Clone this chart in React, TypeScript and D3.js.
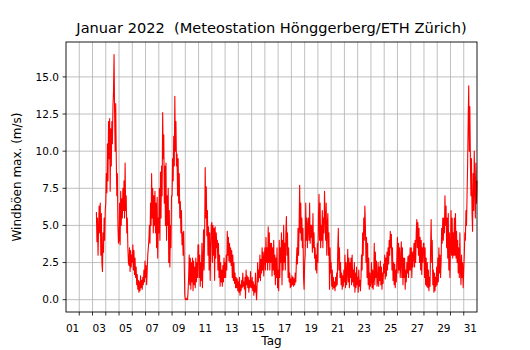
import * as d3 from 'd3';

// hourly max gusts (m/s), one row per day; first row starts Jan 3 07:00
const firstDay = 3;
const firstHour = 7;
const gustRows: number[][] = [
  [5.9, 3.9, 5.5, 3.0, 4.8, 6.3, 4.5, 6.5, 3.0, 5.8, 2.5, 1.9, 4.5, 3.2, 5.5, 4.0, 6.0],
  [6.5, 8.5, 7.2, 10.5, 8.0, 12.0, 9.5, 12.2, 7.3, 11.5, 9.0, 12.0, 10.5, 13.0, 14.0, 16.5, 12.5, 10.0, 13.2, 9.5, 7.0, 8.5, 5.0, 3.8],
  [4.0, 6.5, 3.7, 7.3, 5.0, 6.8, 5.5, 7.5, 6.0, 8.0, 5.5, 9.2, 6.0, 7.0, 4.5, 5.5, 3.5, 2.5, 2.3, 3.5, 1.9, 3.3, 2.2, 3.0],
  [2.5, 3.7, 2.0, 3.3, 1.7, 2.8, 1.5, 2.2, 1.0, 1.7, 0.7, 1.3, 0.5, 1.2, 0.6, 1.6, 0.8, 1.3, 0.7, 1.5, 1.0, 2.0, 1.2, 2.6],
  [1.5, 2.3, 1.0, 2.0, 3.0, 3.5, 4.0, 5.0, 3.8, 6.5, 5.0, 8.5, 5.5, 7.5, 4.5, 7.0, 5.0, 7.3, 4.5, 6.5, 3.5, 6.9, 2.8, 5.5],
  [4.5, 7.5, 4.0, 8.6, 5.5, 9.0, 7.0, 12.6, 9.5, 11.1, 6.5, 9.0, 5.0, 9.2, 4.0, 7.0, 5.0, 7.5, 2.5, 6.0, 2.2, 5.0, 3.5, 7.0],
  [7.0, 9.5, 8.0, 11.0, 9.0, 13.7, 10.0, 12.0, 9.0, 9.8, 7.0, 9.5, 6.5, 8.5, 5.5, 6.6, 4.5, 6.0, 3.7, 4.5, 3.0, 4.6, 2.6, 0.3],
  [0.0, 0.05, 0.0, 0.1, 0.0, 0.6, 1.5, 3.0, 1.0, 2.8, 0.7, 2.5, 1.2, 2.8, 0.6, 2.6, 1.0, 2.2, 0.8, 2.8, 1.2, 2.5, 1.5, 3.7],
  [3.7, 1.5, 3.0, 0.9, 2.5, 1.3, 3.8, 0.8, 2.5, 4.7, 2.0, 4.5, 8.9, 5.5, 7.6, 4.3, 6.0, 3.0, 4.9, 2.0, 4.5, 1.3, 3.5, 5.0],
  [5.2, 2.5, 5.0, 3.0, 4.8, 1.3, 4.9, 2.8, 4.5, 3.5, 4.0, 2.0, 3.8, 1.5, 3.0, 0.9, 2.5, 1.2, 2.0, 0.9, 2.3, 1.2, 2.8, 1.5],
  [2.5, 1.5, 3.0, 2.0, 4.6, 3.0, 4.2, 2.6, 3.8, 2.5, 3.5, 2.3, 3.3, 1.5, 3.0, 1.3, 2.5, 1.1, 1.8, 0.8, 1.5, 0.8, 1.4, 0.6],
  [1.2, 0.5, 1.5, 0.3, 1.0, 0.6, 1.3, 0.8, 1.8, 0.9, 1.2, 0.7, 1.5, 0.1, 2.0, 1.0, 1.6, 0.8, 1.5, 0.5, 1.3, 0.8, 1.9, 0.9],
  [0.8, 1.5, 0.6, 1.2, 0.3, 1.0, 0.5, 1.8, 0.6, 0.0, 1.0, 2.5, 1.2, 2.0, 1.5, 3.0, 1.3, 2.7, 1.8, 3.5, 2.0, 3.2, 1.6, 2.8],
  [3.5, 2.0, 4.2, 2.5, 3.5, 2.0, 4.9, 2.5, 4.5, 2.0, 3.8, 2.5, 3.8, 1.6, 3.5, 2.0, 4.0, 1.7, 3.0, 1.0, 2.8, 1.5, 3.5, 0.8],
  [2.0, 0.6, 4.0, 1.5, 3.5, 2.5, 4.5, 1.0, 4.0, 2.0, 5.0, 2.5, 3.8, 2.0, 4.5, 5.6, 3.0, 4.5, 1.5, 3.5, 1.2, 1.8, 0.8, 1.4],
  [0.9, 1.6, 1.0, 1.5, 0.9, 1.4, 1.0, 1.8, 1.2, 2.5, 3.5, 2.4, 4.8, 3.0, 5.0, 7.7, 4.5, 6.5, 4.0, 5.5, 3.5, 4.8, 1.5, 0.7],
  [2.5, 3.0, 6.5, 4.0, 5.5, 3.5, 5.0, 5.5, 4.0, 6.5, 3.8, 5.0, 4.2, 5.0, 3.2, 5.8, 3.5, 4.5, 2.8, 3.5, 2.0, 3.0, 1.8, 3.8],
  [2.5, 5.5, 7.1, 4.0, 6.5, 3.5, 5.0, 4.0, 6.0, 3.5, 5.5, 4.5, 7.3, 5.5, 4.0, 6.5, 3.0, 5.0, 5.8, 3.0, 4.5, 0.7, 3.5, 1.8],
  [2.5, 0.9, 2.0, 0.7, 1.5, 0.8, 1.2, 0.6, 1.5, 0.9, 1.8, 1.0, 3.5, 4.8, 2.0, 3.5, 1.5, 2.5, 1.0, 1.8, 0.7, 1.6, 0.9, 2.0],
  [1.2, 3.0, 0.8, 2.5, 1.0, 1.8, 3.4, 1.2, 2.8, 0.8, 2.5, 1.5, 2.8, 1.0, 3.0, 1.2, 2.0, 0.9, 2.5, 0.5, 1.8, 0.8, 2.2, 1.0],
  [1.5, 0.5, 2.0, 0.9, 1.3, 0.6, 1.5, 3.0, 2.0, 4.5, 3.0, 5.5, 4.0, 6.3, 5.0, 2.5, 4.2, 1.5, 3.8, 1.0, 2.8, 0.7, 1.8, 0.9],
  [1.2, 2.5, 0.8, 2.0, 0.7, 1.5, 3.8, 1.0, 3.2, 1.5, 2.6, 0.9, 1.2, 2.5, 0.9, 2.2, 1.3, 2.6, 1.0, 2.2, 0.7, 1.8, 1.1, 2.4],
  [1.8, 3.0, 1.4, 2.8, 1.6, 3.2, 2.0, 3.5, 2.4, 4.0, 3.0, 4.6, 3.5, 4.4, 2.0, 3.5, 1.3, 2.5, 1.0, 2.4, 0.8, 2.0, 1.2, 3.0],
  [4.2, 1.8, 3.8, 2.0, 3.5, 1.5, 2.5, 3.9, 1.5, 3.5, 1.0, 2.8, 1.5, 2.8, 0.7, 2.0, 1.2, 2.5, 1.8, 2.9, 1.5, 3.0, 2.0, 3.5],
  [2.0, 3.5, 1.5, 3.2, 2.2, 3.0, 3.8, 2.2, 4.0, 2.5, 4.5, 5.4, 3.5, 5.2, 3.0, 4.8, 2.5, 4.2, 2.0, 4.0, 1.7, 3.5, 2.5, 3.8],
  [3.8, 1.5, 3.5, 1.0, 2.8, 0.9, 2.5, 0.8, 2.0, 0.6, 1.5, 0.9, 3.5, 5.4, 2.5, 4.0, 1.0, 2.0, 0.5, 1.8, 0.6, 1.5, 0.9, 2.2],
  [1.0, 2.8, 1.2, 3.5, 1.8, 3.0, 1.5, 2.5, 4.8, 3.8, 5.5, 4.0, 5.5, 4.5, 7.0, 5.0, 6.3, 3.5, 5.5, 2.8, 5.8, 2.0, 4.5, 1.5],
  [3.5, 6.0, 3.0, 5.5, 2.8, 4.5, 3.0, 5.5, 3.0, 5.8, 2.8, 4.6, 2.5, 4.0, 1.8, 3.5, 1.5, 4.5, 2.0, 1.0, 3.0, 1.5, 2.5, 0.8],
  [2.0, 3.0, 4.5, 4.0, 6.0, 5.0, 7.0, 9.0, 12.0, 14.4, 10.0, 13.0, 9.5, 7.0, 9.5, 5.8, 4.6, 8.5, 6.0, 10.0, 7.5, 5.5, 9.2, 6.5, 8.0],
];

const yTicks = [0, 2.5, 5, 7.5, 10, 12.5, 15];
const dayLabels = ['01', '03', '05', '07', '09', '11', '13', '15', '17', '19', '21', '23', '25', '27', '29', '31'];
const dayBounds = d3.range(2, 32);

const title = 'Januar 2022  (Meteostation Hönggerberg/ETH Zürich)';
const xTitle = 'Tag';
const yTitle = 'Windböen max. (m/s)';

const W = 530;
const H = 350;
const margin = { top: 42, right: 53, bottom: 38, left: 66 };
const font = '"DejaVu Sans", sans-serif';

export default function App() {
  const innerW = W - margin.left - margin.right;
  const innerH = H - margin.top - margin.bottom;

  // flatten rows to (day, value) points
  const points: [number, number][] = [];
  gustRows.forEach((row, i) => {
    const start = i === 0 ? firstHour : 0;
    row.forEach((v, j) => points.push([firstDay + i + (start + j) / 24, v]));
  });

  const x = d3.scaleLinear().domain([1, 32]).range([margin.left, margin.left + innerW]);
  const y = d3.scaleLinear().domain([-0.83, 17.35]).range([margin.top + innerH, margin.top]);

  const line = d3.line<[number, number]>()
    .x(d => x(d[0]))
    .y(d => y(d[1]));

  const bottom = margin.top + innerH;

  return (
    <svg width={W} height={H} style={{ position: 'absolute', left: 0, top: 0, background: '#fff' }} fontFamily={font}>
      <rect x={0} y={0} width={W} height={H} fill="#fff" />
      {/* grid */}
      {dayBounds.map(d => (
        <line key={'gx' + d} x1={x(d)} x2={x(d)} y1={margin.top} y2={bottom} stroke="#b0b0b0" strokeWidth={0.8} />
      ))}
      {yTicks.map(t => (
        <line key={'gy' + t} x1={margin.left} x2={margin.left + innerW} y1={y(t)} y2={y(t)} stroke="#b0b0b0" strokeWidth={0.8} />
      ))}

      <path d={line(points) ?? ''} fill="none" stroke="#ff0000" strokeWidth={1.1} strokeLinejoin="round" />

      {/* frame */}
      <rect x={margin.left} y={margin.top} width={innerW} height={innerH} fill="none" stroke="#000" strokeWidth={0.9} />

      {/* x ticks */}
      {dayBounds.map(d => (
        <line key={'tx' + d} x1={x(d)} x2={x(d)} y1={bottom} y2={bottom + 3.5} stroke="#000" strokeWidth={0.8} />
      ))}
      {dayLabels.map(lab => (
        <text key={'lx' + lab} x={x(+lab + 0.5)} y={332} textAnchor="middle" fontSize={10.5} fill="#000">{lab}</text>
      ))}

      {/* y ticks */}
      {yTicks.map(t => (
        <g key={'ty' + t}>
          <line x1={margin.left - 3.5} x2={margin.left} y1={y(t)} y2={y(t)} stroke="#000" strokeWidth={0.8} />
          <text x={margin.left - 7} y={y(t)} dy="0.36em" textAnchor="end" fontSize={10.5} fill="#000">{t.toFixed(1)}</text>
        </g>
      ))}

      <text x={margin.left + innerW / 2} y={345} textAnchor="middle" fontSize={12} fill="#000">{xTitle}</text>
      <text transform={`translate(20.5,${margin.top + innerH / 2}) rotate(-90)`} textAnchor="middle" fontSize={12} fill="#000">{yTitle}</text>
      <text x={margin.left + innerW / 2} y={33} textAnchor="middle" fontSize={14.6} fill="#000" style={{ whiteSpace: 'pre' }}>{title}</text>
    </svg>
  );
}
